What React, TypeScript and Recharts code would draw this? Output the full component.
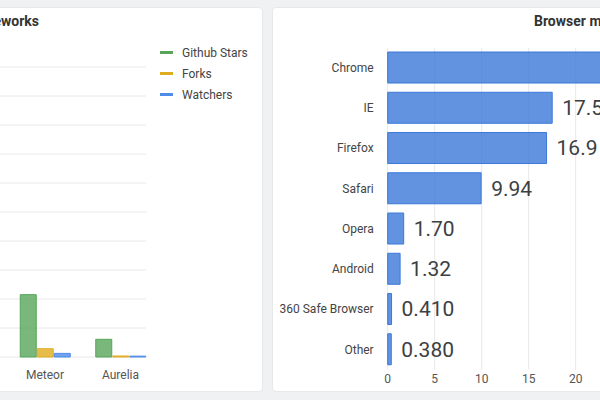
import { BarChart, Bar, XAxis, YAxis, CartesianGrid, LabelList } from "recharts";

// left panel: frameworks on github (only the right end is in view)
const frameworks = ["Meteor", "Aurelia"];
const stars = [43000, 12200];
const forks = [5700, 700];
const watchers = [2500, 600];
const starTicks = [0, 20000, 40000, 60000, 80000, 100000, 120000, 140000, 160000, 180000, 200000];

// right panel: browser market share
const browsers = ["Chrome", "IE", "Firefox", "Safari", "Opera", "Android", "360 Safe Browser", "Other"];
const share = [51.8, 17.5, 16.9, 9.94, 1.7, 1.32, 0.41, 0.38];
const shareTicks = [0, 5, 10, 15, 20, 25, 30, 35, 40, 45, 50, 55, 60];

const series = [
  { key: "stars", name: "Github Stars", color: "#57a55a" },
  { key: "forks", name: "Forks", color: "#e0ac1f" },
  { key: "watchers", name: "Watchers", color: "#4f8be8" },
];

const repoData = frameworks.map((f, i) => ({
  name: f,
  stars: stars[i],
  forks: forks[i],
  watchers: watchers[i],
}));

const browserData = browsers.map((b, i) => ({ name: b, share: share[i] }));

const font = "Roboto, 'Noto Sans', sans-serif";

const card: any = {
  position: "absolute",
  top: 7,
  height: 385,
  background: "#fff",
  borderRadius: 4,
  border: "1px solid #e6e8e9",
  boxSizing: "border-box",
};

export default function App() {
  return (
    <div
      style={{
        position: "absolute",
        left: 0,
        top: 0,
        width: 600,
        height: 400,
        overflow: "hidden",
        background: "#f0f1f2",
        fontFamily: font,
      }}
    >
      <div style={{ ...card, left: -300, width: 563 }} />
      <div style={{ ...card, left: 272, width: 600 }} />

      <div
        style={{
          position: "absolute",
          right: 561,
          top: 13,
          fontSize: 14,
          fontWeight: 700,
          color: "#333",
          whiteSpace: "nowrap",
        }}
      >
        JavaScript Frameworks
      </div>
      <div
        style={{
          position: "absolute",
          left: 534,
          top: 13,
          fontSize: 14,
          fontWeight: 700,
          color: "#333",
          whiteSpace: "nowrap",
        }}
      >
        Browser market share
      </div>

      <div style={{ position: "absolute", left: -100, top: 0 }}>
        <BarChart
          width={363}
          height={400}
          data={repoData}
          margin={{ top: 67, right: 117, left: 0, bottom: 13 }}
          barSize={16}
          barGap={1}
        >
          <CartesianGrid vertical={false} stroke="#e8e8e8" />
          <XAxis
            dataKey="name"
            axisLine={false}
            tickLine={false}
            tickMargin={7}
            height={30}
            padding={{ left: 57.25, right: -12.25 }}
            tick={{ fill: "#555", fontSize: 12, fontFamily: font }}
          />
          <YAxis
            width={50}
            domain={[0, 200000]}
            ticks={starTicks}
            axisLine={false}
            tickLine={false}
            tick={{ fill: "#555", fontSize: 12 }}
          />
          {series.map((s) => (
            <Bar
              key={s.key}
              dataKey={s.key}
              name={s.name}
              fill={s.color}
              fillOpacity={0.8}
              stroke={s.color}
              isAnimationActive={false}
            />
          ))}
        </BarChart>
      </div>

      <div style={{ position: "absolute", left: 160, top: 42 }}>
        {series.map((s) => (
          <div
            key={s.key}
            style={{ display: "flex", alignItems: "center", height: 21, fontSize: 12, color: "#444" }}
          >
            <span style={{ width: 13, height: 3, background: s.color, marginRight: 9 }} />
            {s.name}
          </div>
        ))}
      </div>

      <div style={{ position: "absolute", left: 272, top: 0 }}>
        <BarChart
          layout="vertical"
          width={720}
          height={400}
          data={browserData}
          margin={{ top: 47.6, right: 40.3, left: 0, bottom: 0.4 }}
          barCategoryGap="11%"
        >
          <CartesianGrid horizontal={false} stroke="#e8e8e8" />
          <XAxis
            type="number"
            domain={[0, 60]}
            ticks={shareTicks}
            axisLine={false}
            tickLine={false}
            tickSize={3}
            tickMargin={2}
            height={30}
            tick={{ fill: "#555", fontSize: 12, fontFamily: font }}
          />
          <YAxis
            type="category"
            dataKey="name"
            width={115.7}
            axisLine={false}
            tickLine={false}
            tickMargin={8}
            tick={{ fill: "#444", fontSize: 12, fontFamily: font }}
          />
          <Bar
            dataKey="share"
            fill="#3b78d8"
            fillOpacity={0.8}
            stroke="#3b78d8"
            isAnimationActive={false}
          >
            <LabelList
              dataKey="share"
              position="right"
              offset={10}
              formatter={(v: any) => Number(v).toPrecision(3)}
              style={{ fill: "#3c4043", fontSize: 21, fontFamily: font }}
            />
          </Bar>
        </BarChart>
      </div>
    </div>
  );
}
